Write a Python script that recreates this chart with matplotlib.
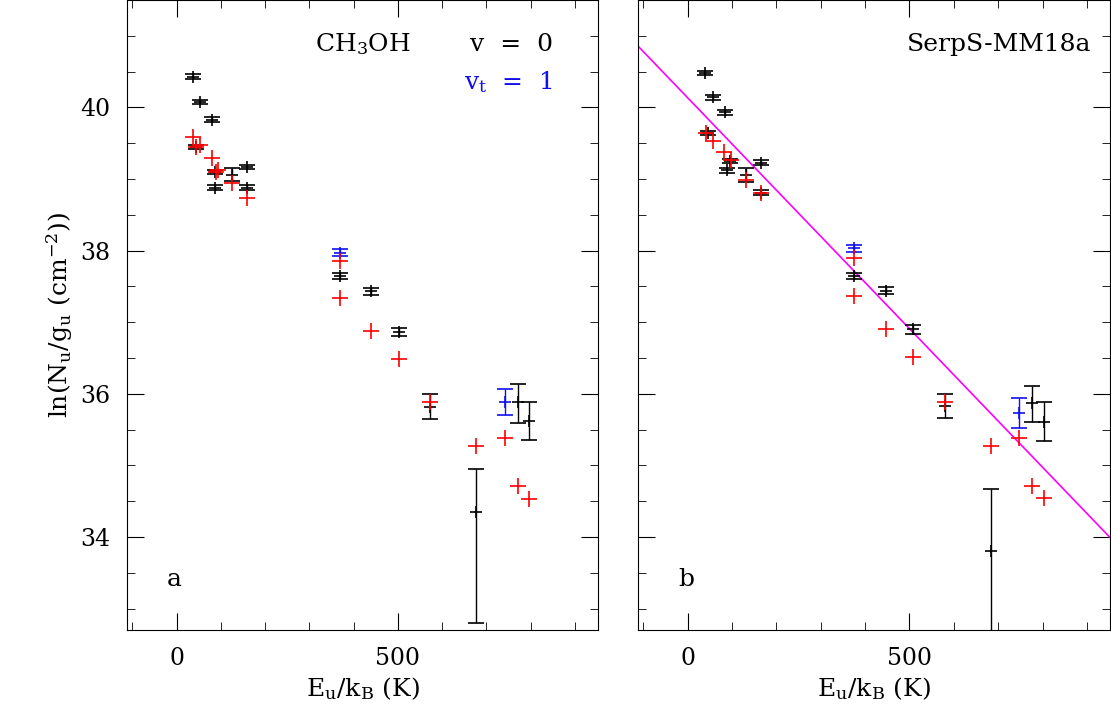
import matplotlib
matplotlib.use("Agg")
import matplotlib.pyplot as plt
from matplotlib.ticker import MultipleLocator

plt.rcParams['font.family'] = 'DejaVu Serif'
plt.rcParams['mathtext.fontset'] = 'dejavuserif'

# Panel a
a_blk_x = [36, 52, 79, 43, 86, 86, 126, 160, 160, 370, 440, 503, 573, 677, 772, 797]
a_blk_y = [40.43, 40.08, 39.83, 39.45, 39.10, 38.88, 39.06, 39.17, 38.88, 37.64, 37.43, 36.86, 35.82, 34.35, 35.89, 35.62]
a_blk_lo = [0.03, 0.03, 0.03, 0.03, 0.03, 0.03, 0.09, 0.03, 0.03, 0.04, 0.05, 0.06, 0.17, 1.55, 0.30, 0.27]
a_blk_hi = [0.03, 0.03, 0.03, 0.03, 0.03, 0.03, 0.09, 0.03, 0.03, 0.04, 0.05, 0.06, 0.17, 0.60, 0.24, 0.27]
a_blu_x = [370, 743]
a_blu_y = [37.97, 35.89]
a_blu_e = [0.05, 0.18]
a_red_x = [36, 45, 53, 79, 90, 94, 126, 160, 370, 370, 440, 503, 573, 677, 743, 772, 797]
a_red_y = [39.59, 39.45, 39.47, 39.29, 39.10, 39.12, 38.95, 38.73, 37.85, 37.34, 36.88, 36.48, 35.89, 35.27, 35.38, 34.71, 34.53]

# Panel b
b_blk_x = [38, 57, 84, 45, 95, 88, 131, 165, 165, 376, 446, 509, 579, 683, 776, 803]
b_blk_y = [40.48, 40.14, 39.93, 39.64, 39.25, 39.12, 39.06, 39.23, 38.81, 37.64, 37.44, 36.90, 35.83, 33.80, 35.87, 35.61]
b_blk_lo = [0.03, 0.03, 0.03, 0.03, 0.03, 0.03, 0.10, 0.03, 0.03, 0.04, 0.05, 0.06, 0.17, 1.5, 0.27, 0.27]
b_blk_hi = [0.03, 0.03, 0.03, 0.03, 0.03, 0.03, 0.10, 0.03, 0.03, 0.04, 0.05, 0.06, 0.17, 0.87, 0.24, 0.27]
b_blu_x = [376, 747]
b_blu_y = [38.03, 35.73]
b_blu_e = [0.05, 0.21]
b_red_x = [41, 57, 81, 97, 131, 165, 376, 376, 446, 509, 579, 683, 747, 776, 803]
b_red_y = [39.64, 39.53, 39.37, 39.27, 38.98, 38.80, 37.89, 37.37, 36.91, 36.52, 35.89, 35.27, 35.38, 34.71, 34.55]

fit_x = [-111, 957]
fit_y = [40.85, 33.96]

fig = plt.figure(figsize=(11.11, 7.18), dpi=100)
W, H = 1111, 718
axa = fig.add_axes([127/W, 1-630/H, (598-127)/W, 630/H])
axb = fig.add_axes([638/W, 1-630/H, (1110-638)/W, 630/H])

def draw(ax, bx, by, blo, bhi, ux, uy, ue, rx, ry):
    ax.errorbar(bx, by, yerr=[blo, bhi], fmt='+', color='black', ms=8, mew=1.2,
                elinewidth=1.0, capsize=6, capthick=1.2, zorder=3)
    ax.errorbar(ux, uy, yerr=ue, fmt='+', color='#1010ee', ms=8, mew=1.2,
                elinewidth=1.0, capsize=6, capthick=1.2, zorder=3)
    ax.plot(rx, ry, '+', color='red', ms=12, mew=1.2, zorder=4)
    ax.set_xlim(-112, 952)
    ax.set_ylim(32.7, 41.5)
    ax.xaxis.set_major_locator(MultipleLocator(500))
    ax.xaxis.set_minor_locator(MultipleLocator(100))
    ax.yaxis.set_major_locator(MultipleLocator(2))
    ax.yaxis.set_minor_locator(MultipleLocator(0.5))
    ax.tick_params(which='both', direction='in', top=True, right=True, labelsize=17, pad=12)
    ax.tick_params(which='major', length=12)
    ax.tick_params(which='minor', length=6)
    ax.set_xlabel(r'E$_\mathrm{u}$/k$_\mathrm{B}$ (K)', fontsize=18)

draw(axa, a_blk_x, a_blk_y, a_blk_lo, a_blk_hi, a_blu_x, a_blu_y, a_blu_e, a_red_x, a_red_y)
draw(axb, b_blk_x, b_blk_y, b_blk_lo, b_blk_hi, b_blu_x, b_blu_y, b_blu_e, b_red_x, b_red_y)
axb.plot(fit_x, fit_y, color='magenta', lw=1.2, zorder=2)
axb.tick_params(labelleft=False)

axa.set_ylabel(r'ln(N$_\mathrm{u}$/g$_\mathrm{u}$ (cm$^{-2}$))', fontsize=18)
axa.text(0.40, 0.93, r'CH$_3$OH', transform=axa.transAxes, fontsize=18, va='center')
axa.text(0.905, 0.93, 'v  =  0', transform=axa.transAxes, fontsize=18, va='center', ha='right')
axa.text(0.905, 0.87, r'v$_\mathrm{t}$  =  1', transform=axa.transAxes, fontsize=18, va='center', ha='right', color='#1010ee')
axa.text(0.085, 0.07, 'a', transform=axa.transAxes, fontsize=18)
axb.text(0.96, 0.93, 'SerpS-MM18a', transform=axb.transAxes, fontsize=18, va='center', ha='right')
axb.text(0.085, 0.07, 'b', transform=axb.transAxes, fontsize=18)

fig.savefig('out.png', dpi=100)
